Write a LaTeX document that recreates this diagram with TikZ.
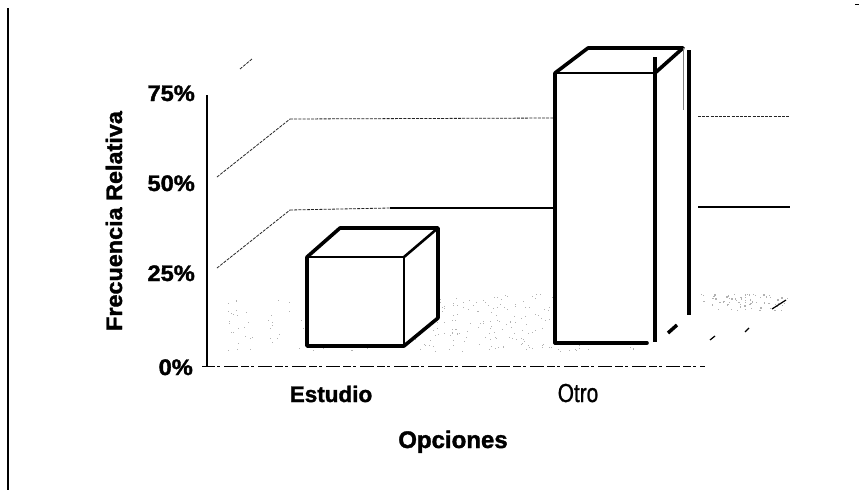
\documentclass[tikz,border=0pt]{standalone}
\usepackage{fontspec}
\setmainfont{Liberation Sans}[BoldFeatures={FakeBold=1.5}]
\newfontfamily\otrofont{Liberation Sans}[FakeBold=1.2]
\begin{document}
\begin{tikzpicture}[x=1pt,y=-1pt,
  lab/.style={font=\bfseries\fontsize{22.5}{26}\selectfont, inner sep=0pt},
  gridln/.style={line width=0.8pt, dash pattern=on 3pt off 1.2pt, black!85},
  thick edge/.style={line width=3.6pt, line cap=round, line join=round},
  mid edge/.style={line width=2.6pt, line cap=round, line join=round},
  stip/.style={fill=gray!60}
]
\useasboundingbox (0,0) rectangle (868,493);
\fill[white] (0,0) rectangle (868,493);

% frame line at left
\draw[line width=2.4pt] (8,8) -- (8,490);
\draw[line width=0.8pt] (855,4) -- (859,4);

% floor stipple
\pgfmathsetseed{11}
\foreach \i in {1,...,150}{
  \pgfmathsetmacro\px{408+145*rnd}
  \pgfmathsetmacro\py{294+56*rnd}
  \fill[stip] (\px,\py) rectangle ++(1,1);
}
\foreach \i in {1,...,40}{
  \pgfmathsetmacro\px{228+78*rnd}
  \pgfmathsetmacro\py{300+50*rnd}
  \fill[stip] (\px,\py) rectangle ++(1,1);
}
\foreach \i in {1,...,70}{
  \pgfmathsetmacro\px{700+88*rnd}
  \pgfmathsetmacro\py{294+16*rnd}
  \fill[stip] (\px,\py) rectangle ++(1.2,1.2);
}
\foreach \i in {1,...,40}{
  \pgfmathsetmacro\px{300+360*rnd}
  \pgfmathsetmacro\py{343+8*rnd}
  \fill[stip] (\px,\py) rectangle ++(1,1);
}

% side wall diagonals and back wall gridlines
\coordinate (d75a) at (217,177); \coordinate (d75b) at (290,119);
\coordinate (d50a) at (217,268); \coordinate (d50b) at (290,210);
\coordinate (d99a) at (240,69);  \coordinate (d99b) at (252,59);
\draw[gridln] (d75a) -- (d75b);
\draw[gridln] (d50a) -- (d50b);
\draw[gridln] (d99a) -- (d99b);
\draw[gridln] (d75b) -- (553,118);
\draw[gridln] (d50b) -- (390,208);
\draw[line width=1.1pt] (390,208) -- (553,208);
\draw[gridln] (698,116) -- (790,116);
\draw[line width=1.1pt] (698,207) -- (790,207);

% small marks right of tall bar
\draw[line width=1.2pt] (710,340) -- (715,336);
\draw[line width=1.2pt] (745,332) -- (749,328);
\draw[line width=1.2pt] (772,309) -- (786,300);

% axes
\coordinate (o) at (207,366);
\draw[line width=2pt] (207,95) -- (o);
\draw[line width=1pt] (202,366) -- (o);
\draw[line width=1pt, dash pattern=on 8pt off 2pt on 3pt off 4pt on 14pt off 3pt] (o) -- (705,366);

% short bar (cube)
\coordinate (c1) at (307,257); \coordinate (c2) at (404,257);
\coordinate (c3) at (404,346); \coordinate (c4) at (307,346);
\coordinate (c5) at (340,228); \coordinate (c6) at (438,228);
\coordinate (c7) at (438,318);
\filldraw[fill=white, thick edge] (c1) -- (c5) -- (c6) -- (c7) -- (c3) -- (c4) -- cycle;
\draw[mid edge] (c1) -- (c2) -- (c3);
\draw[mid edge] (c2) -- (c6);

% tall bar
\coordinate (t1) at (555,73);  \coordinate (t2) at (655,73);
\coordinate (t3) at (655,343); \coordinate (t4) at (555,343);
\coordinate (t5) at (588,48);  \coordinate (t6) at (683,48);
\fill[white] (t1) -- (t5) -- (t6) -- (689,48) -- (689,315) -- (t3) -- (t4) -- cycle;
\draw[mid edge] (t1) -- (t2);
\draw[thick edge] (t4) -- (t1) -- (t5) -- (t6) -- (t2);
\draw[thick edge] (t4) -- (647,343);
\draw[line width=4pt] (655,57) -- (655,342);
\draw[line width=4pt] (689,50) -- (689,315);
\draw[line width=0.8pt, gray] (683,48) -- (683,110);
\draw[line width=3.5pt] (668,333) -- (677,325);

% labels
\node[lab, anchor=base east] (p75) at (195,101) {\scalebox{1.05}[1]{75\%}};
\node[lab, anchor=base east] (p50) at (195,191) {\scalebox{1.05}[1]{50\%}};
\node[lab, anchor=base east] (p25) at (195,281) {\scalebox{1.05}[1]{25\%}};
\node[lab, anchor=base east] (p0)  at (193,375) {\scalebox{1.05}[1]{0\%}};
\node[lab, rotate=90, anchor=base] (ylab) at (122,221) {\scalebox{1.04}[1]{Frecuencia Relativa}};
\node[lab, anchor=base] (est) at (331,402) {Estudio};
\node[inner sep=0pt, anchor=base, font=\otrofont\fontsize{26}{30}\selectfont] (otro) at (578,402) {\scalebox{0.8}[1]{Otro}};
\node[lab, anchor=base, font=\bfseries\fontsize{24}{28}\selectfont] (opc) at (453,448) {Opciones};
\end{tikzpicture}
\end{document}
